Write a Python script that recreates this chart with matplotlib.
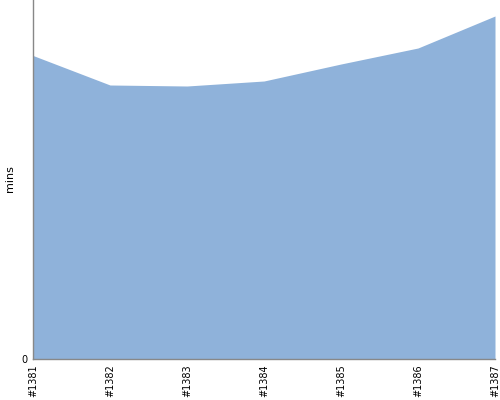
import matplotlib
matplotlib.use("Agg")
import matplotlib.pyplot as plt

builds = ["#1381", "#1382", "#1383", "#1384", "#1385", "#1386", "#1387"]
mins = [303.5, 274, 273, 278, 295, 311, 343]

fig = plt.figure(figsize=(5, 4), dpi=100)
ax = fig.add_axes([33/500, 41/400, 462/500, 359/400])
x = list(range(len(builds)))
ax.fill_between(x, mins, 0, color="#8fb2da", linewidth=0)
ax.set_xlim(0, len(builds) - 1)
ax.set_ylim(0, 359)
ax.set_xticks(x)
ax.set_xticklabels(builds, rotation=90, fontsize=7)
ax.set_yticks([0])
ax.set_yticklabels(["0"], fontsize=7)
ax.tick_params(axis="both", length=0, pad=4)
fig.text(10/500, 1 - 179/400, "mins", rotation=90, fontsize=8, ha="center", va="center")
for s in ["top", "right"]:
    ax.spines[s].set_visible(False)
for s in ["left", "bottom"]:
    ax.spines[s].set_color("#888888")
    ax.spines[s].set_linewidth(1)
fig.savefig("out.png", dpi=100)
